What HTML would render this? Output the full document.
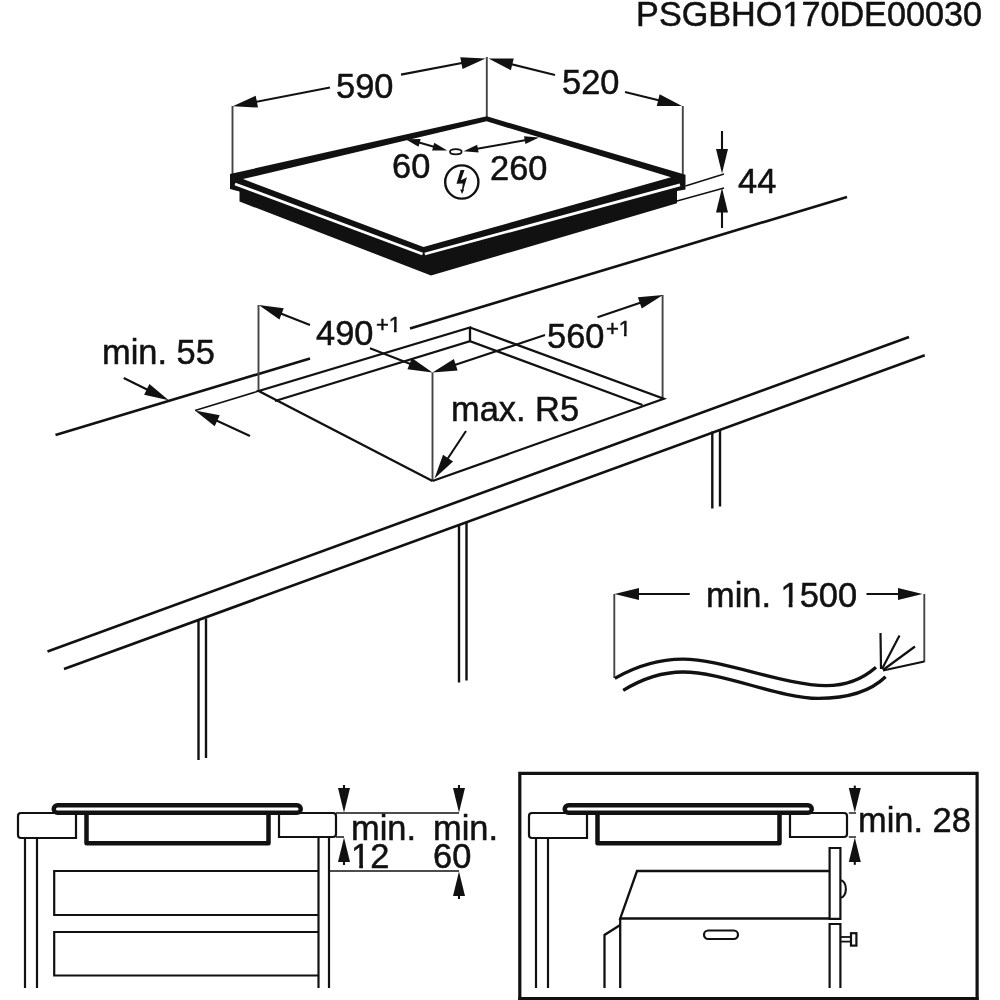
<!DOCTYPE html>
<html><head><meta charset="utf-8"><style>
html,body{margin:0;padding:0;background:#fff;width:1000px;height:1000px;overflow:hidden}
svg{display:block}
#w{will-change:transform;width:1000px;height:1000px}
text{font-family:"Liberation Sans",sans-serif;fill:#111;stroke:#111;stroke-width:0.5px}
</style></head><body><div id="w">
<svg width="1000" height="1000" viewBox="0 0 1000 1000">
<rect width="1000" height="1000" fill="#fff"/>
<text x="982" y="26.4" font-size="34.2" text-anchor="end" >PSGBHO170DE00030</text>
<line x1="232.5" y1="106" x2="232.5" y2="175" stroke="#444" stroke-width="1.9" stroke-linecap="butt"/>
<line x1="486.8" y1="57" x2="486.8" y2="117" stroke="#444" stroke-width="1.9" stroke-linecap="butt"/>
<line x1="682.8" y1="106" x2="682.8" y2="175" stroke="#444" stroke-width="1.9" stroke-linecap="butt"/>
<line x1="330" y1="87.5" x2="247.2325211163631" y2="103.50852472234952" stroke="#111" stroke-width="2.1" stroke-linecap="butt"/>
<polygon points="232.80,106.30 255.71,95.76 257.99,107.54" fill="#111"/>
<line x1="401" y1="74.6" x2="471.0566394544094" y2="61.3348374997568" stroke="#111" stroke-width="2.1" stroke-linecap="butt"/>
<polygon points="485.50,58.60 462.54,69.05 460.31,57.26" fill="#111"/>
<text x="336" y="97.5" font-size="34.4" text-anchor="start" >590</text>
<line x1="555" y1="74.9" x2="502.77736156059933" y2="62.09956381109427" stroke="#111" stroke-width="2.1" stroke-linecap="butt"/>
<polygon points="488.50,58.60 513.72,58.61 510.87,70.26" fill="#111"/>
<line x1="625" y1="92.0" x2="667.7242945926783" y2="102.49368639118416" stroke="#111" stroke-width="2.1" stroke-linecap="butt"/>
<polygon points="682.00,106.00 656.78,105.98 659.64,94.33" fill="#111"/>
<text x="562" y="93.8" font-size="34.4" text-anchor="start" >520</text>
<polygon points="230.00,174.00 486.80,116.30 685.50,174.80 685.50,189.40 677.00,191.00 677.00,203.30 431.00,275.50 239.50,201.50 239.50,191.50 230.00,189.00" fill="#111"/>
<polygon points="243.00,179.00 486.60,121.30 671.00,177.30 423.50,247.00" fill="#fff"/>
<polyline points="235,184 422.5,254" fill="none" stroke="#fff" stroke-width="2.8" stroke-linejoin="miter" stroke-linecap="butt"/>
<polyline points="424.8,254 680,184.8" fill="none" stroke="#fff" stroke-width="2.8" stroke-linejoin="miter" stroke-linecap="butt"/>
<line x1="685.5" y1="186" x2="724" y2="174" stroke="#111" stroke-width="1.4" stroke-linecap="butt"/>
<line x1="677" y1="201" x2="724" y2="188" stroke="#111" stroke-width="1.4" stroke-linecap="butt"/>
<line x1="722" y1="131" x2="722.0" y2="158.8" stroke="#111" stroke-width="2.1" stroke-linecap="butt"/>
<polygon points="722.00,173.50 716.00,149.00 728.00,149.00" fill="#111"/>
<line x1="722" y1="228" x2="722.0" y2="202.7" stroke="#111" stroke-width="2.1" stroke-linecap="butt"/>
<polygon points="722.00,188.00 728.00,212.50 716.00,212.50" fill="#111"/>
<text x="738" y="193" font-size="34.4" text-anchor="start" >44</text>
<ellipse cx="455.8" cy="151.8" rx="5.8" ry="2.6" fill="none" stroke="#111" stroke-width="1.8"/>
<line x1="412" y1="140.5" x2="440" y2="148.5" stroke="#111" stroke-width="2.0" stroke-linecap="butt"/>
<polygon points="405.60,139.20 420.64,139.11 418.56,146.83" fill="#111"/>
<polygon points="447.20,150.40 432.16,150.49 434.24,142.77" fill="#111"/>
<line x1="470" y1="150" x2="532" y2="139" stroke="#111" stroke-width="2.0" stroke-linecap="butt"/>
<polygon points="463.60,151.20 477.16,144.69 478.58,152.56" fill="#111"/>
<polygon points="539.00,137.60 525.44,144.11 524.02,136.24" fill="#111"/>
<text x="392" y="178" font-size="34.4" text-anchor="start" >60</text>
<text x="490" y="180" font-size="34.4" text-anchor="start" >260</text>
<circle cx="461.8" cy="182" r="16.6" fill="none" stroke="#111" stroke-width="2.4"/>
<polygon points="460.60,170.10 464.50,170.10 460.90,180.20 467.00,177.20 463.40,189.60 464.20,189.60 462.00,194.00 460.20,189.60 462.00,189.60 462.80,183.40 456.50,183.80" fill="#111"/>
<line x1="55.5" y1="435" x2="310" y2="358.47185" stroke="#111" stroke-width="2.6" stroke-linecap="butt"/>
<line x1="410" y1="328.40184999999997" x2="847" y2="197" stroke="#111" stroke-width="2.6" stroke-linecap="butt"/>
<text x="102" y="364" font-size="34.4" text-anchor="start" >min. 55</text>
<line x1="123.75" y1="378" x2="155.56695349380715" y2="393.6963637236115" stroke="#111" stroke-width="2.1" stroke-linecap="butt"/>
<polygon points="168.75,400.20 144.12,394.74 149.43,383.98" fill="#111"/>
<line x1="250" y1="436" x2="208.33633760906918" y2="416.6832110732957" stroke="#111" stroke-width="2.1" stroke-linecap="butt"/>
<polygon points="195.00,410.50 219.75,415.36 214.70,426.25" fill="#111"/>
<line x1="195" y1="410.5" x2="258.75" y2="391" stroke="#111" stroke-width="1.5" stroke-linecap="butt"/>
<line x1="258.5" y1="305" x2="258.5" y2="391" stroke="#444" stroke-width="1.9" stroke-linecap="butt"/>
<line x1="310" y1="324.9" x2="272.4532266543665" y2="310.3208626423784" stroke="#111" stroke-width="2.1" stroke-linecap="butt"/>
<polygon points="258.75,305.00 283.76,308.27 279.42,319.46" fill="#111"/>
<line x1="370" y1="348.2" x2="418.79911997546765" y2="367.1730978464618" stroke="#111" stroke-width="2.1" stroke-linecap="butt"/>
<polygon points="432.50,372.50 407.49,369.21 411.84,358.03" fill="#111"/>
<text x="316" y="345" font-size="34.4" text-anchor="start" >490</text>
<text x="376" y="332.3" font-size="22" text-anchor="start" >+1</text>
<line x1="662.6" y1="295" x2="662.6" y2="398.75" stroke="#444" stroke-width="1.9" stroke-linecap="butt"/>
<line x1="597.5" y1="317.2" x2="649.0779125193534" y2="299.7186311766466" stroke="#111" stroke-width="2.1" stroke-linecap="butt"/>
<polygon points="663.00,295.00 641.72,308.55 637.87,297.18" fill="#111"/>
<line x1="545" y1="335" x2="446.4456444813425" y2="367.8514518395525" stroke="#111" stroke-width="2.1" stroke-linecap="butt"/>
<polygon points="432.50,372.50 453.85,359.06 457.64,370.44" fill="#111"/>
<text x="547" y="347.5" font-size="34.4" text-anchor="start" >560</text>
<text x="606" y="336" font-size="22" text-anchor="start" >+1</text>
<line x1="432.5" y1="372.5" x2="432.5" y2="481" stroke="#444" stroke-width="1.9" stroke-linecap="butt"/>
<polyline points="642.5,405 470,341.25 275,401" fill="none" stroke="#111" stroke-width="2.3" stroke-linejoin="miter" stroke-linecap="butt"/>
<polyline points="432.5,481 258.75,391 470,327.5 470,341.25" fill="none" stroke="#111" stroke-width="2.3" stroke-linejoin="miter" stroke-linecap="butt"/>
<polyline points="470,327.5 663.75,398.75 432.5,481" fill="none" stroke="#111" stroke-width="2.3" stroke-linejoin="miter" stroke-linecap="butt"/>
<text x="451" y="421.25" font-size="34.4" text-anchor="start" >max. R5</text>
<line x1="466" y1="431" x2="442.6243093738048" y2="466.2490572934689" stroke="#111" stroke-width="2.1" stroke-linecap="butt"/>
<polygon points="434.50,478.50 443.04,454.77 453.04,461.40" fill="#111"/>
<line x1="47.5" y1="651.5" x2="909" y2="337" stroke="#111" stroke-width="2.6" stroke-linecap="butt"/>
<line x1="64" y1="669" x2="924.75" y2="355.2" stroke="#111" stroke-width="2.6" stroke-linecap="butt"/>
<line x1="198.5" y1="620.5" x2="198.5" y2="760" stroke="#111" stroke-width="2.4" stroke-linecap="butt"/>
<line x1="206" y1="618.5" x2="206" y2="758" stroke="#111" stroke-width="2.4" stroke-linecap="butt"/>
<line x1="459" y1="525" x2="459" y2="682.5" stroke="#111" stroke-width="2.4" stroke-linecap="butt"/>
<line x1="466.5" y1="523" x2="466.5" y2="680.5" stroke="#111" stroke-width="2.4" stroke-linecap="butt"/>
<line x1="712.3" y1="431.5" x2="712.3" y2="508.5" stroke="#111" stroke-width="2.4" stroke-linecap="butt"/>
<line x1="720" y1="429.5" x2="720" y2="506.5" stroke="#111" stroke-width="2.4" stroke-linecap="butt"/>
<line x1="614.3" y1="594" x2="614.3" y2="678" stroke="#444" stroke-width="1.9" stroke-linecap="butt"/>
<line x1="689.75" y1="594" x2="629.2" y2="594.0" stroke="#111" stroke-width="2.1" stroke-linecap="butt"/>
<polygon points="614.50,594.00 639.00,588.00 639.00,600.00" fill="#111"/>
<line x1="866.5" y1="594" x2="907.8" y2="594.0" stroke="#111" stroke-width="2.1" stroke-linecap="butt"/>
<polygon points="922.50,594.00 898.00,600.00 898.00,588.00" fill="#111"/>
<line x1="924.3" y1="594" x2="924.3" y2="662" stroke="#444" stroke-width="1.9" stroke-linecap="butt"/>
<text x="706" y="607" font-size="34.4" text-anchor="start" >min. 1500</text>
<path d="M614.8,678.4 C640,664 662,659.2 683,659.2 C722,659.2 785,685.6 826,685.6 C850,685.6 866,676 876,667.2" fill="none" stroke="#111" stroke-width="3.3" stroke-linejoin="miter" stroke-linecap="butt"/>
<path d="M623.2,690.4 C645,677 665,672 683.2,672 C722,672 780,698.4 818.4,698.4 C850,698.4 872,690 885.6,676.8" fill="none" stroke="#111" stroke-width="3.3" stroke-linejoin="miter" stroke-linecap="butt"/>
<line x1="881" y1="669" x2="880.5" y2="633" stroke="#111" stroke-width="2.2" stroke-linecap="butt"/>
<line x1="882" y1="669" x2="899.5" y2="635.5" stroke="#111" stroke-width="2.2" stroke-linecap="butt"/>
<line x1="883" y1="670" x2="915" y2="646.5" stroke="#111" stroke-width="2.2" stroke-linecap="butt"/>
<line x1="883" y1="670.5" x2="924.3" y2="661.5" stroke="#111" stroke-width="2.2" stroke-linecap="butt"/>
<path d="M76,813 H21 Q18,813 18,816 V835 Q18,838 21,838 H76 Z" fill="none" stroke="#111" stroke-width="2.2" stroke-linejoin="miter" stroke-linecap="butt"/>
<path d="M279,813 H333 Q336,813 336,816 V834 Q336,837 333,837 H279 Z" fill="none" stroke="#111" stroke-width="2.2" stroke-linejoin="miter" stroke-linecap="butt"/>
<path d="M57.5,805.2 H297 A3.75,3.75 0 0 1 297,812.7 H57.5 A3.75,3.75 0 0 1 57.5,805.2 Z" fill="none" stroke="#111" stroke-width="4.5" stroke-linejoin="miter" stroke-linecap="butt"/>
<polyline points="86.5,815 86.5,843.2 268.5,843.2 268.5,815" fill="none" stroke="#111" stroke-width="4.5" stroke-linejoin="round" stroke-linecap="butt"/>
<line x1="25" y1="838" x2="25" y2="988" stroke="#111" stroke-width="2.2" stroke-linecap="butt"/>
<line x1="37" y1="838" x2="37" y2="988" stroke="#111" stroke-width="2.2" stroke-linecap="butt"/>
<line x1="318.5" y1="837" x2="318.5" y2="988" stroke="#111" stroke-width="2.2" stroke-linecap="butt"/>
<line x1="329" y1="837" x2="329" y2="988" stroke="#111" stroke-width="2.2" stroke-linecap="butt"/>
<polyline points="318.5,871 54.2,871 54.2,915 318.5,915" fill="none" stroke="#111" stroke-width="2.2" stroke-linejoin="miter" stroke-linecap="butt"/>
<polyline points="318.5,932 54.2,932 54.2,975.5 318.5,975.5" fill="none" stroke="#111" stroke-width="2.2" stroke-linejoin="miter" stroke-linecap="butt"/>
<line x1="329" y1="871" x2="459" y2="871" stroke="#111" stroke-width="1.5" stroke-linecap="butt"/>
<line x1="336" y1="813" x2="459" y2="813" stroke="#111" stroke-width="1.5" stroke-linecap="butt"/>
<line x1="336" y1="837" x2="344" y2="837" stroke="#111" stroke-width="1.5" stroke-linecap="butt"/>
<line x1="344" y1="785" x2="344.0" y2="797.8" stroke="#111" stroke-width="2.1" stroke-linecap="butt"/>
<polygon points="344.00,812.50 338.00,788.00 350.00,788.00" fill="#111"/>
<line x1="344" y1="865" x2="344.0" y2="852.2" stroke="#111" stroke-width="2.1" stroke-linecap="butt"/>
<polygon points="344.00,837.50 350.00,862.00 338.00,862.00" fill="#111"/>
<line x1="459" y1="785" x2="459.0" y2="797.8" stroke="#111" stroke-width="2.1" stroke-linecap="butt"/>
<polygon points="459.00,812.50 453.00,788.00 465.00,788.00" fill="#111"/>
<line x1="459" y1="899" x2="459.0" y2="886.2" stroke="#111" stroke-width="2.1" stroke-linecap="butt"/>
<polygon points="459.00,871.50 465.00,896.00 453.00,896.00" fill="#111"/>
<text x="351" y="840" font-size="34.4" text-anchor="start" >min.</text>
<text x="351" y="868" font-size="34.4" text-anchor="start" >12</text>
<text x="433" y="840" font-size="34.4" text-anchor="start" >min.</text>
<text x="433" y="868" font-size="34.4" text-anchor="start" >60</text>
<polygon points="519.8,773.4 977.1,773.4 977.1,998.6 519.8,998.6" fill="none" stroke="#111" stroke-width="3.2" stroke-linejoin="miter" stroke-linecap="butt"/>
<line x1="518.2" y1="998.6" x2="978.7" y2="998.6" stroke="#111" stroke-width="3.4" stroke-linecap="butt"/>
<path d="M587,813 H532 Q529,813 529,816 V835 Q529,838 532,838 H587 Z" fill="none" stroke="#111" stroke-width="2.2" stroke-linejoin="miter" stroke-linecap="butt"/>
<path d="M790,813 H844 Q847,813 847,816 V834 Q847,837 844,837 H790 Z" fill="none" stroke="#111" stroke-width="2.2" stroke-linejoin="miter" stroke-linecap="butt"/>
<path d="M568.5,805.2 H808 A3.75,3.75 0 0 1 808,812.7 H568.5 A3.75,3.75 0 0 1 568.5,805.2 Z" fill="none" stroke="#111" stroke-width="4.5" stroke-linejoin="miter" stroke-linecap="butt"/>
<polyline points="597.5,815 597.5,843.2 779.5,843.2 779.5,815" fill="none" stroke="#111" stroke-width="4.5" stroke-linejoin="round" stroke-linecap="butt"/>
<line x1="536" y1="838" x2="536" y2="988" stroke="#111" stroke-width="2.2" stroke-linecap="butt"/>
<line x1="548" y1="838" x2="548" y2="988" stroke="#111" stroke-width="2.2" stroke-linecap="butt"/>
<line x1="848.8" y1="813" x2="856" y2="813" stroke="#111" stroke-width="1.4" stroke-linecap="butt"/>
<line x1="848.8" y1="837" x2="856" y2="837" stroke="#111" stroke-width="1.4" stroke-linecap="butt"/>
<line x1="854.8" y1="785.6" x2="854.8" y2="797.8" stroke="#111" stroke-width="2.1" stroke-linecap="butt"/>
<polygon points="854.80,812.50 848.80,788.00 860.80,788.00" fill="#111"/>
<line x1="854.8" y1="864.8" x2="854.8" y2="852.2" stroke="#111" stroke-width="2.1" stroke-linecap="butt"/>
<polygon points="854.80,837.50 860.80,862.00 848.80,862.00" fill="#111"/>
<text x="858" y="832.4" font-size="34.4" text-anchor="start" >min. 28</text>
<polyline points="829.6,871 637,871 620.2,918.5 829.6,918.5" fill="none" stroke="#111" stroke-width="2.3" stroke-linejoin="miter" stroke-linecap="butt"/>
<line x1="620.2" y1="918.5" x2="620.2" y2="988" stroke="#111" stroke-width="2.3" stroke-linecap="butt"/>
<polyline points="604.5,988 604.5,935 620.2,925" fill="none" stroke="#111" stroke-width="2.3" stroke-linejoin="miter" stroke-linecap="butt"/>
<rect x="704" y="930.5" width="34" height="8.5" rx="4.2" fill="none" stroke="#111" stroke-width="2.2"/>
<polygon points="829.6,848 840.4,848 840.4,918.8 829.6,918.8" fill="none" stroke="#111" stroke-width="2.2" stroke-linejoin="miter" stroke-linecap="butt"/>
<path d="M840.4,880.2 A5.5,8.8 0 0 1 840.4,897.8" fill="none" stroke="#111" stroke-width="2.1" stroke-linejoin="miter" stroke-linecap="butt"/>
<polyline points="829.6,988 829.6,924 840.4,924 840.4,988" fill="none" stroke="#111" stroke-width="2.2" stroke-linejoin="miter" stroke-linecap="butt"/>
<polyline points="840.4,937 850,937" fill="none" stroke="#111" stroke-width="1.8" stroke-linejoin="miter" stroke-linecap="butt"/>
<polyline points="840.4,941.6 850,941.6" fill="none" stroke="#111" stroke-width="1.8" stroke-linejoin="miter" stroke-linecap="butt"/>
<rect x="851" y="933.2" width="5.4" height="12.4" fill="none" stroke="#111" stroke-width="2.2"/>
<rect x="783.76" y="22.18" width="6.78" height="5.82" fill="#fff"/>
<rect x="794.32" y="22.18" width="6.84" height="5.82" fill="#fff"/>
<rect x="389.72" y="329.30" width="4.22" height="4.60" fill="#fff"/>
<rect x="396.66" y="329.30" width="4.40" height="4.60" fill="#fff"/>
<rect x="619.72" y="333.00" width="4.22" height="4.60" fill="#fff"/>
<rect x="626.66" y="333.00" width="4.40" height="4.60" fill="#fff"/>
<rect x="781.89" y="602.76" width="6.82" height="5.84" fill="#fff"/>
<rect x="792.51" y="602.76" width="6.88" height="5.84" fill="#fff"/>
<rect x="352.38" y="863.76" width="6.82" height="5.84" fill="#fff"/>
<rect x="362.99" y="863.76" width="6.88" height="5.84" fill="#fff"/>
</svg></div></body></html>
